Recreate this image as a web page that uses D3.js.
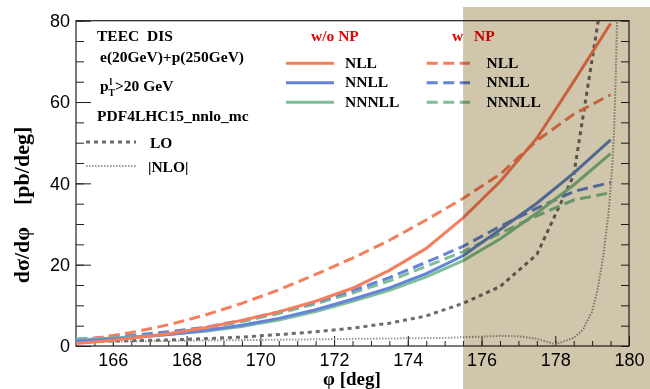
<!DOCTYPE html>
<html>
<head>
<meta charset="utf-8">
<script src="https://cdn.jsdelivr.net/npm/d3@7"></script>
<style>
  html, body { margin: 0; padding: 0; background: #fff; }
  svg { display: block; }
  text { white-space: pre; }
</style>
</head>
<body>
<svg id="chart" width="650" height="389"></svg>
<script>
// ---- data ----
const phi = [165, 165.5, 166.5, 167.5, 168.5, 169.5, 170.5, 171.5, 172.5, 173.5, 174.5, 175.5, 176.5, 177.5, 178.5, 179.5];
const nll      = [0.6, 1.0, 1.9, 3.0, 4.5, 6.3, 8.4, 11.0, 14.2, 18.6, 24.0, 31.5, 40.4, 51.1, 65.0, 79.3];
const nllNP    = [1.5, 1.9, 3.3, 5.2, 7.6, 10.5, 13.8, 17.6, 21.6, 26.0, 31.0, 36.3, 42.2, 50.5, 57.0, 61.8];
const nnll     = [1.3, 1.5, 2.0, 2.8, 3.8, 5.1, 6.8, 8.9, 11.5, 14.3, 17.8, 22.2, 28.6, 35.1, 42.5, 50.7];
const nnllNP   = [1.6, 1.9, 2.6, 3.5, 4.6, 6.3, 8.4, 10.8, 13.6, 16.8, 20.6, 24.5, 29.4, 33.9, 38.0, 40.2];
const nnnll    = [1.6, 1.7, 2.2, 2.8, 3.6, 4.8, 6.4, 8.5, 11.0, 13.7, 17.0, 21.0, 26.3, 32.7, 39.6, 47.3];
const nnnllNP  = [1.7, 1.9, 2.5, 3.3, 4.4, 6.0, 8.0, 10.4, 13.0, 16.0, 19.6, 23.2, 27.7, 32.0, 35.9, 37.7];
const lo       = [1.1, 1.2, 1.3, 1.5, 1.8, 2.2, 2.8, 3.5, 4.4, 5.6, 7.4, 10.5, 14.6, 22.5, 42.0, 99.0];
const nloPhi = [165, 166, 167, 168, 169, 170, 171, 172, 173, 174, 175, 176, 176.5, 177, 177.5, 178, 178.25, 178.5, 178.75, 179, 179.15, 179.3, 179.45, 179.55, 179.6, 179.65, 179.7];
const nloAbs = [1.0, 1.1, 1.2, 1.3, 1.4, 1.5, 1.6, 1.7, 1.8, 1.9, 2.0, 2.3, 2.5, 2.4, 1.8, 0.4, 1.2, 2.0, 4.0, 8.5, 14, 22, 33, 45, 54, 70, 90];
const xMajorTicks = [166, 168, 170, 172, 174, 176, 178, 180];
const yMajorTicks = [0, 20, 40, 60, 80];
const npBoundary = 175.5;

// ---- layout ----
const svg = d3.select("#chart");
const x = d3.scaleLinear().domain([165, 180]).range([76, 629]);
const y = d3.scaleLinear().domain([0, 80]).range([346, 20.7]);

const C = { nll: "#f67e5c", nnll: "#6384da", nnnll: "#7fbf97", lo: "#6c6c6c", nlo: "#9a9a9a" };
const serif = "'Liberation Serif', 'Times New Roman', serif";
const sans = "'Liberation Sans', Arial, Helvetica, sans-serif";

svg.append("defs").append("clipPath").attr("id", "clip")
  .append("rect").attr("x", x(165)).attr("y", y(80)).attr("width", x(180) - x(165)).attr("height", y(0) - y(80));

// axes
const axX = svg.append("g").attr("transform", `translate(0,${y(0)})`)
  .call(d3.axisBottom(x).tickValues(xMajorTicks).tickSize(-10).tickPadding(7).tickFormat(d3.format("d")));
const axXm = svg.append("g").attr("transform", `translate(0,${y(0)})`)
  .call(d3.axisBottom(x).tickValues(d3.range(165, 180.01, 0.5)).tickSize(-5).tickFormat(""));
const axY = svg.append("g").attr("transform", `translate(${x(165)},0)`)
  .call(d3.axisLeft(y).tickValues(yMajorTicks).tickSize(-15).tickPadding(6).tickFormat(d3.format("d")));
const axYm = svg.append("g").attr("transform", `translate(${x(165)},0)`)
  .call(d3.axisLeft(y).tickValues(d3.range(0, 80.01, 5)).tickSize(-8).tickFormat(""));
const axYr = svg.append("g").attr("transform", `translate(${x(180)},0)`)
  .call(d3.axisRight(y).tickValues(d3.range(0, 80.01, 5)).tickSize(-8).tickFormat(""));
[axX, axXm, axY, axYm, axYr].forEach(g => {
  g.select(".domain").remove();
  g.selectAll(".tick line").attr("stroke", "#222").attr("stroke-width", 1);
  g.selectAll(".tick text").attr("font-family", sans).attr("font-size", 18).attr("fill", "#000");
});

// frame
svg.append("rect").attr("x", x(165)).attr("y", y(80)).attr("width", x(180) - x(165)).attr("height", y(0) - y(80))
  .attr("fill", "none").attr("stroke", "#222").attr("stroke-width", 1.2);

// curves
const gC = svg.append("g").attr("clip-path", "url(#clip)");
const line = d3.line().x(d => x(d[0])).y(d => y(d[1]));
function draw(xs, ys, color, width, dash) {
  gC.append("path").datum(xs.map((v, i) => [v, ys[i]]))
    .attr("d", line).attr("fill", "none").attr("stroke", color)
    .attr("stroke-width", width).attr("stroke-dasharray", dash || null);
}
const dash = "11,5.5";
draw(nloPhi, nloAbs, C.nlo, 2, "1.5,1.5");
draw(phi, lo, C.lo, 3, "4,4");
draw(phi, nnnllNP, C.nnnll, 3, dash);
draw(phi, nnllNP, C.nnll, 3, dash);
draw(phi, nllNP, C.nll, 3, dash);
draw(phi, nnnll, C.nnnll, 3);
draw(phi, nnll, C.nnll, 3);
draw(phi, nll, C.nll, 3);

// axis titles
svg.append("text").attr("x", 352).attr("y", 385).attr("text-anchor", "middle")
  .attr("font-family", serif).attr("font-weight", "bold").attr("font-size", 19).text("φ [deg]");
svg.append("text").attr("transform", "translate(29,205) rotate(-90)").attr("text-anchor", "middle")
  .attr("font-family", serif).attr("font-weight", "bold").attr("font-size", 22).text("dσ/dφ    [pb/deg]");

// left info text
function t(xp, yp, str, size, color) {
  return svg.append("text").attr("x", xp).attr("y", yp).attr("font-family", serif).attr("font-weight", "bold")
    .attr("font-size", size || 15.5).attr("fill", color || "#000").text(str);
}
t(97, 41, "TEEC  DIS");
t(100, 62, "e(20GeV)+p(250GeV)");
t(100, 91, "p");
t(109.5, 85, "l", 9.5);
t(108.5, 96, "T", 9.5);
t(115, 91, ">20 GeV");
t(97, 120.5, "PDF4LHC15_nnlo_mc");
svg.append("line").attr("x1", 86).attr("x2", 136).attr("y1", 142).attr("y2", 142)
  .attr("stroke", C.lo).attr("stroke-width", 3).attr("stroke-dasharray", "4,4");
t(150, 148, "LO");
svg.append("line").attr("x1", 86).attr("x2", 136).attr("y1", 166).attr("y2", 166)
  .attr("stroke", C.nlo).attr("stroke-width", 2).attr("stroke-dasharray", "1.5,1.5");
t(148, 172, "|NLO|");

// right legend
t(311, 41, "w/o NP", 15.5, "#ee0000");
t(452, 41, "w", 15.5, "#ee0000");
t(474, 41, "NP", 15.5, "#ee0000");
const legNames = ["NLL", "NNLL", "NNNLL"];
const legColors = [C.nll, C.nnll, C.nnnll];
const legY = [63.3, 82.7, 102.3];
legNames.forEach((n, i) => {
  svg.append("line").attr("x1", 286).attr("x2", 334).attr("y1", legY[i]).attr("y2", legY[i])
    .attr("stroke", legColors[i]).attr("stroke-width", 3);
  t(345, legY[i] + 4.7, n);
  svg.append("line").attr("x1", 426.7).attr("x2", 470).attr("y1", legY[i]).attr("y2", legY[i])
    .attr("stroke", legColors[i]).attr("stroke-width", 3).attr("stroke-dasharray", dash);
  t(486.5, legY[i] + 4.7, n);
});

// non-perturbative region shading
svg.append("rect").attr("x", x(npBoundary)).attr("y", 7).attr("width", 650 - x(npBoundary) + 5).attr("height", 389)
  .attr("fill", "rgb(208,198,172)").style("mix-blend-mode", "multiply");
</script>
</body>
</html>
